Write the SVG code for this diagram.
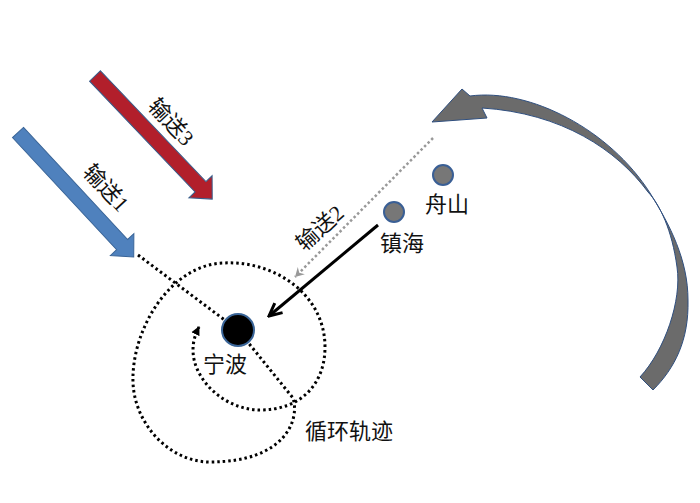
<svg xmlns="http://www.w3.org/2000/svg" width="700" height="503" viewBox="0 0 700 503">
<style>
.lbl{font-family:"Liberation Serif","Noto Sans CJK SC",serif;fill:#111;text-anchor:middle;dominant-baseline:central}
.place{font-size:22px}
.rot{font-size:22px}
.dot{fill:#777;stroke:#3a5f95;stroke-width:2}
.traj{fill:none;stroke:#000;stroke-width:3;stroke-dasharray:2.5 3}
</style>
<defs>
<marker id="openArrow" viewBox="0 0 16 16" refX="14" refY="8" markerWidth="16" markerHeight="16" markerUnits="userSpaceOnUse" orient="auto">
<path d="M1.4,1.9 L14,8 L1.4,14.1" fill="none" stroke="#000" stroke-width="3"/>
</marker>
<marker id="grayArrow" viewBox="0 0 12 12" refX="10" refY="6" markerWidth="12" markerHeight="12" markerUnits="userSpaceOnUse" orient="auto">
<path d="M1,1 L10,6 L1,11 L4,6 Z" fill="#999"/>
</marker>
<marker id="dotArrow" viewBox="0 0 10 10" refX="8" refY="5" markerWidth="10" markerHeight="10" markerUnits="userSpaceOnUse" orient="auto">
<path d="M0,0.5 L9,5 L0,9.5 Z" fill="#000"/>
</marker>
</defs>

<g id="connectors">
<path class="traj" d="M138,255 L238,330 L293,398 C300,420 285,462 210,462 C170,462 135,425 133,383 C131,330 170,265 223,263 C275,260 325,295 325,347 C325,385 300,410 260,410 C225,410 193,380 193,350 C193,340 196,333 199,327" marker-end="url(#dotArrow)"/>
<line x1="433" y1="138" x2="295" y2="277" stroke="#999" stroke-width="2.5" stroke-dasharray="2.5 2.5" marker-end="url(#grayArrow)"/>
<line x1="378" y1="225" x2="269" y2="316" stroke="#000" stroke-width="3" marker-end="url(#openArrow)"/>
</g>

<g id="arrow-1">
<polygon transform="translate(18,132.5) rotate(47.1)" points="0,-7.5 153,-7.5 153,-16 170,0 153,16 153,7.5 0,7.5" fill="#4f81bd" stroke="#3a6598" stroke-width="1"/>
<text class="lbl rot" transform="translate(106,188) rotate(47)">输送1</text>
</g>
<g id="arrow-3">
<polygon transform="translate(95,76) rotate(46.4)" points="0,-7.5 153,-7.5 153,-16 170,0 153,16 153,7.5 0,7.5" fill="#b21f2b" stroke="#385d8a" stroke-width="1"/>
<text class="lbl rot" transform="translate(171,122) rotate(47)">输送3</text>
</g>
<g id="label-2">
<text class="lbl rot" transform="translate(320,228) rotate(-42)">输送2</text>
</g>

<g id="curved-arrow">
<path d="M432,122 L462,89 L470,96 C530,88 610,130 650,193 C670,225 688,260 688,300 C689,340 675,368 653,390 L640,377 C665,350 682,300 677,267 C672,230 660,205 648,192 C617,150 562,113 482,108 L487,118 Z" fill="#6b6b6b" stroke="#2f4f7f" stroke-width="1"/>
</g>

<g id="ningbo">
<circle cx="238" cy="330" r="16" fill="#000" stroke="#3a6598" stroke-width="2"/>
<text class="lbl place" x="225" y="364">宁波</text>
</g>
<g id="zhoushan">
<circle class="dot" cx="443" cy="175" r="10"/>
<text class="lbl place" x="447" y="204">舟山</text>
</g>
<g id="zhenhai">
<circle class="dot" cx="394" cy="212" r="10"/>
<text class="lbl place" x="402" y="243">镇海</text>
</g>
<g id="trajectory-label">
<text class="lbl place" x="349" y="431">循环轨迹</text>
</g>
</svg>
